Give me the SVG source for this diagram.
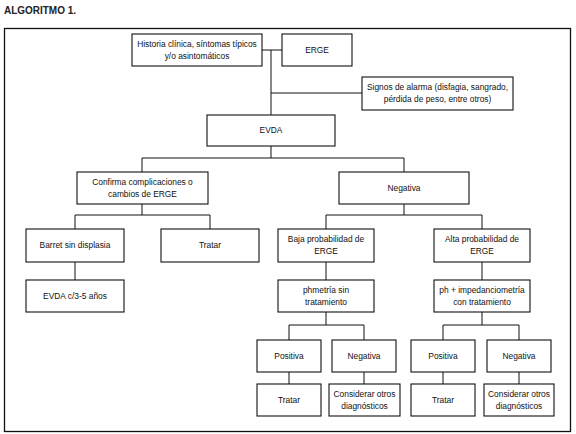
<svg xmlns="http://www.w3.org/2000/svg" width="576" height="434" viewBox="0 0 576 434">
<style>
.b{fill:#fff;stroke:#111;stroke-width:1.1}
.t{font-family:"Liberation Sans",Arial,sans-serif;font-size:8.4px;fill:#111;text-anchor:middle}
.c{fill:none;stroke:#111;stroke-width:1}
</style>
<rect width="576" height="434" fill="#fff"/>
<text x="4" y="14" font-family="Liberation Sans,Arial,sans-serif" font-weight="bold" font-size="11" textLength="72" lengthAdjust="spacingAndGlyphs" fill="#222">ALGORITMO 1.</text>
<rect x="4.5" y="28.5" width="566" height="403" fill="none" stroke="#111" stroke-width="1.3"/>
<g id="connectors" class="c">
<path d="M262 50H282M271 50V115M271 93H362"/>
<path d="M271 146V158M142 158H404M142 158V172M404 158V172"/>
<path d="M142 204V215M75 215H210M75 215V229M210 215V229M75 262V280"/>
<path d="M404 204V215M326 215H482M326 215V229M482 215V229M326 262V280M482 262V280"/>
<path d="M326 312V325M289 325H364M289 325V340M364 325V340M289 372V384M364 372V384"/>
<path d="M482 312V325M443 325H519M443 325V340M519 325V340M443 372V384M519 372V384"/>
</g>
<g id="historia"><rect class="b" x="132" y="34" width="130" height="32"/><text class="t" x="197" y="47">Historia clínica, síntomas típicos</text><text class="t" x="197" y="59">y/o asintomáticos</text></g>
<g id="erge"><rect class="b" x="282" y="34" width="70" height="32"/><text class="t" x="317" y="53">ERGE</text></g>
<g id="signos"><rect class="b" x="362" y="77" width="151" height="33"/><text class="t" x="437.5" y="90">Signos de alarma (disfagia, sangrado,</text><text class="t" x="437.5" y="102">pérdida de peso, entre otros)</text></g>
<g id="evda"><rect class="b" x="207" y="115" width="128" height="31"/><text class="t" x="271" y="133">EVDA</text></g>
<g id="confirma"><rect class="b" x="77" y="172" width="131" height="32"/><text class="t" x="142.5" y="185">Confirma complicaciones o</text><text class="t" x="142.5" y="197">cambios de ERGE</text></g>
<g id="negativa"><rect class="b" x="339" y="172" width="130" height="32"/><text class="t" x="404" y="191">Negativa</text></g>
<g id="barret"><rect class="b" x="26" y="229" width="98" height="33"/><text class="t" x="75" y="248">Barret sin displasia</text></g>
<g id="tratar1"><rect class="b" x="161" y="229" width="98" height="33"/><text class="t" x="210" y="248">Tratar</text></g>
<g id="baja"><rect class="b" x="278" y="229" width="96" height="33"/><text class="t" x="326" y="242">Baja probabilidad de</text><text class="t" x="326" y="254">ERGE</text></g>
<g id="alta"><rect class="b" x="434" y="229" width="96" height="33"/><text class="t" x="482" y="242">Alta probabilidad de</text><text class="t" x="482" y="254">ERGE</text></g>
<g id="evda35"><rect class="b" x="26" y="280" width="98" height="32"/><text class="t" x="75" y="299">EVDA c/3-5 años</text></g>
<g id="phmetria"><rect class="b" x="278" y="280" width="96" height="32"/><text class="t" x="326" y="293">phmetría sin</text><text class="t" x="326" y="305">tratamiento</text></g>
<g id="phimp"><rect class="b" x="434" y="280" width="96" height="32"/><text class="t" x="482" y="293">ph + impedanciometría</text><text class="t" x="482" y="305">con tratamiento</text></g>
<g id="positiva1"><rect class="b" x="257" y="340" width="64" height="32"/><text class="t" x="289" y="359">Positiva</text></g>
<g id="negativa1"><rect class="b" x="332" y="340" width="64" height="32"/><text class="t" x="364" y="359">Negativa</text></g>
<g id="positiva2"><rect class="b" x="411" y="340" width="64" height="32"/><text class="t" x="443" y="359">Positiva</text></g>
<g id="negativa2"><rect class="b" x="487" y="340" width="64" height="32"/><text class="t" x="519" y="359">Negativa</text></g>
<g id="tratar2"><rect class="b" x="257" y="384" width="64" height="32"/><text class="t" x="289" y="403">Tratar</text></g>
<g id="considerar1"><rect class="b" x="329" y="384" width="71" height="32"/><text class="t" x="364.5" y="397">Considerar otros</text><text class="t" x="364.5" y="409">diagnósticos</text></g>
<g id="tratar3"><rect class="b" x="411" y="384" width="64" height="32"/><text class="t" x="443" y="403">Tratar</text></g>
<g id="considerar2"><rect class="b" x="484" y="384" width="70" height="32"/><text class="t" x="519" y="397">Considerar otros</text><text class="t" x="519" y="409">diagnósticos</text></g>
</svg>
